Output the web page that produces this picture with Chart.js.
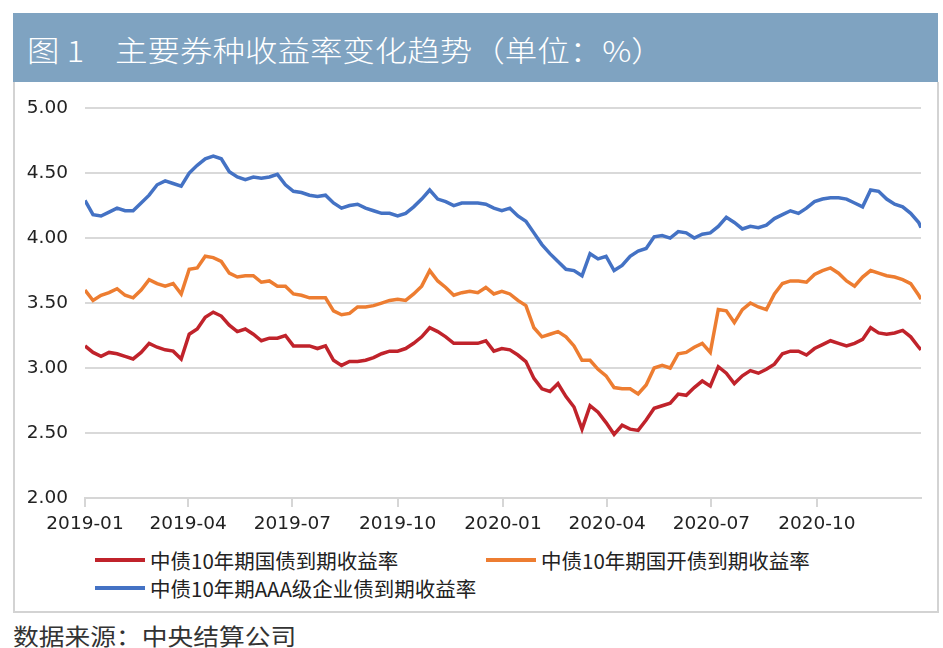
<!DOCTYPE html>
<html>
<head>
<meta charset="utf-8">
<script src="https://cdn.jsdelivr.net/npm/chart.js@4.4.0/dist/chart.umd.min.js"></script>
<style>
  body { margin: 0; background: #fff; width: 943px; height: 648px; position: relative; overflow: hidden;
         font-family: "Noto Sans CJK SC", sans-serif; }
  #head { position: absolute; left: 13px; top: 13px; width: 925px; height: 69px; background: #7fa3c1; }
  .t { position: absolute; color: #fff; font-size: 29px; line-height: 29px; top: 22px; white-space: nowrap;
       transform: scaleX(1.12); transform-origin: 0 50%; font-weight: 300; }
  #box { position: absolute; left: 13px; top: 82px; width: 922px; height: 529px; border: 2px solid #d3d3d3; border-top: none; }
  #wrap { position: absolute; left: 15px; top: 80px; }
  .leg { position: absolute; font-size: 20.5px; line-height: 22px; color: #222; white-space: nowrap; }
  .leg i { position: absolute; left: -55px; top: 9px; width: 50px; height: 4px; }
  #src { position: absolute; left: 13px; top: 622px; font-size: 23px; line-height: 26px; color: #333;
         transform: scaleX(1.12); transform-origin: 0 50%; white-space: nowrap; }
</style>
</head>
<body>
<div id="head">
  <span class="t" style="left:14px">图 1</span>
  <span class="t" style="left:102px">主要券种收益率变化趋势（单位：%）</span>
</div>
<div id="box"></div>
<div id="wrap"><canvas id="c" width="920" height="465"></canvas></div>
<div id="legend"></div>
<div id="src">数据来源：中央结算公司</div>
<script>
const dates = [
  '2019-01-01','2019-01-08','2019-01-15','2019-01-22','2019-01-29','2019-02-05','2019-02-12','2019-02-19','2019-02-26',
  '2019-03-05','2019-03-12','2019-03-19','2019-03-26','2019-04-02','2019-04-09','2019-04-16','2019-04-23','2019-04-30',
  '2019-05-07','2019-05-14','2019-05-21','2019-05-28','2019-06-04','2019-06-11','2019-06-18','2019-06-25',
  '2019-07-02','2019-07-09','2019-07-16','2019-07-23','2019-07-30','2019-08-06','2019-08-13','2019-08-20','2019-08-27',
  '2019-09-03','2019-09-10','2019-09-17','2019-09-24','2019-10-01','2019-10-08','2019-10-15','2019-10-22','2019-10-29',
  '2019-11-05','2019-11-12','2019-11-19','2019-11-26','2019-12-03','2019-12-10','2019-12-17','2019-12-24','2019-12-31',
  '2020-01-07','2020-01-14','2020-01-21','2020-01-28','2020-02-04','2020-02-11','2020-02-18','2020-02-25',
  '2020-03-03','2020-03-10','2020-03-17','2020-03-24','2020-03-31','2020-04-07','2020-04-14','2020-04-21','2020-04-28',
  '2020-05-05','2020-05-12','2020-05-19','2020-05-26','2020-06-02','2020-06-09','2020-06-16','2020-06-23','2020-06-30',
  '2020-07-07','2020-07-14','2020-07-21','2020-07-28','2020-08-04','2020-08-11','2020-08-18','2020-08-25',
  '2020-09-01','2020-09-08','2020-09-15','2020-09-22','2020-09-29','2020-10-06','2020-10-13','2020-10-20','2020-10-27',
  '2020-11-03','2020-11-10','2020-11-17','2020-11-24','2020-12-01','2020-12-08','2020-12-15','2020-12-22','2020-12-29',
  '2020-12-31'
];

// 中债10年期国债到期收益率
const govYield = [
  3.17, 3.12, 3.09, 3.12, 3.11, 3.09, 3.07, 3.12, 3.19, 3.16, 3.14, 3.13, 3.07,
  3.26, 3.30, 3.39, 3.43, 3.40, 3.33, 3.28, 3.30, 3.26, 3.21, 3.23, 3.23, 3.25, 3.17,
  3.17, 3.17, 3.15, 3.17, 3.06, 3.02, 3.05, 3.05, 3.06, 3.08, 3.11, 3.13, 3.13, 3.15, 3.19, 3.24, 3.31,
  3.28, 3.24, 3.19, 3.19, 3.19, 3.19, 3.21, 3.13, 3.15,
  3.14, 3.10, 3.05, 2.92, 2.84, 2.82, 2.88, 2.78, 2.70, 2.53, 2.71, 2.66, 2.58, 2.49, 2.56, 2.53, 2.52,
  2.60, 2.69, 2.71, 2.73, 2.80, 2.79, 2.85, 2.90, 2.86,
  3.01, 2.96, 2.88, 2.94, 2.98, 2.96, 2.99, 3.03, 3.11, 3.13, 3.13, 3.10, 3.15, 3.18, 3.21, 3.19, 3.17,
  3.19, 3.22, 3.31, 3.27, 3.26, 3.27, 3.29, 3.24, 3.16, 3.14
];

// 中债10年期国开债到期收益率
const cdbYield = [
  3.60, 3.52, 3.56, 3.58, 3.61, 3.56, 3.54, 3.60, 3.68, 3.65, 3.63, 3.65, 3.57,
  3.76, 3.77, 3.86, 3.85, 3.82, 3.73, 3.70, 3.71, 3.71, 3.66, 3.67, 3.63, 3.63, 3.57,
  3.56, 3.54, 3.54, 3.54, 3.44, 3.41, 3.42, 3.47, 3.47, 3.48, 3.50, 3.52, 3.53, 3.52, 3.57, 3.63, 3.75,
  3.67, 3.62, 3.56, 3.58, 3.59, 3.58, 3.62, 3.57, 3.59,
  3.57, 3.52, 3.48, 3.31, 3.24, 3.26, 3.28, 3.24, 3.17, 3.06, 3.06, 2.99, 2.94, 2.85, 2.84, 2.84, 2.80,
  2.87, 3.00, 3.02, 3.00, 3.11, 3.12, 3.16, 3.19, 3.12,
  3.45, 3.44, 3.35, 3.45, 3.50, 3.47, 3.45, 3.57, 3.65, 3.67, 3.67, 3.66, 3.72, 3.75, 3.77, 3.73, 3.67,
  3.63, 3.70, 3.75, 3.73, 3.71, 3.70, 3.68, 3.65, 3.56, 3.53
];

// 中债10年期AAA级企业债到期收益率
const aaaYield = [
  4.29, 4.18, 4.17, 4.20, 4.23, 4.21, 4.21, 4.27, 4.33, 4.41, 4.44, 4.42, 4.40,
  4.50, 4.56, 4.61, 4.63, 4.61, 4.51, 4.47, 4.45, 4.47, 4.46, 4.47, 4.49, 4.41, 4.36,
  4.35, 4.33, 4.32, 4.33, 4.27, 4.23, 4.25, 4.26, 4.23, 4.21, 4.19, 4.19, 4.17, 4.19, 4.24, 4.30, 4.37,
  4.30, 4.28, 4.25, 4.27, 4.27, 4.27, 4.26, 4.23, 4.21,
  4.23, 4.17, 4.13, 4.04, 3.95, 3.88, 3.82, 3.76, 3.75, 3.71, 3.88, 3.84, 3.86, 3.75, 3.79, 3.86, 3.90,
  3.92, 4.01, 4.02, 4.00, 4.05, 4.04, 4.00, 4.03, 4.04,
  4.09, 4.16, 4.12, 4.07, 4.09, 4.08, 4.10, 4.15, 4.18, 4.21, 4.19, 4.23, 4.28, 4.30, 4.31, 4.31, 4.30,
  4.27, 4.24, 4.37, 4.36, 4.30, 4.26, 4.24, 4.19, 4.12, 4.08
];

const seriesNames = ['中债10年期国债到期收益率', '中债10年期国开债到期收益率', '中债10年期AAA级企业债到期收益率'];
const seriesColors = ['#c0232b', '#ed7d31', '#4472c4'];
const tickLabels = ['2019-01', '2019-04', '2019-07', '2019-10', '2020-01', '2020-04', '2020-07', '2020-10'];
const yTicks = [2.0, 2.5, 3.0, 3.5, 4.0, 4.5, 5.0];

function day(s) {
  const p = s.split('-');
  return (Date.UTC(+p[0], +p[1] - 1, +(p[2] || 1)) - Date.UTC(2019, 0, 1)) / 86400000;
}
const xs = dates.map(day);
const tickDays = tickLabels.map(day);
const endDay = day('2020-12-31');

const toPts = arr => arr.map((v, i) => ({ x: xs[i], y: v }));

const datasets = [govYield, cdbYield, aaaYield].map((arr, k) => ({
  label: seriesNames[k],
  data: toPts(arr),
  borderColor: seriesColors[k],
  backgroundColor: seriesColors[k],
  borderWidth: 3.5,
  pointRadius: 0,
  tension: 0,
  fill: false
}));

new Chart(document.getElementById('c'), {
  type: 'line',
  data: { datasets: datasets },
  options: {
    responsive: false,
    animation: false,
    layout: { padding: { top: 25, right: 14, bottom: 0, left: 0 } },
    plugins: { legend: { display: false }, tooltip: { enabled: false } },
    scales: {
      x: {
        type: 'linear',
        min: 0,
        max: endDay,
        afterBuildTicks: s => { s.ticks = tickDays.map(v => ({ value: v })); },
        afterFit: s => { s.height = 47; },
        ticks: {
          autoSkip: false,
          maxRotation: 0,
          padding: 6,
          color: '#222',
          font: { family: 'DejaVu Sans', size: 18.5 },
          callback: v => tickLabels[tickDays.indexOf(v)]
        },
        grid: { drawOnChartArea: false, drawTicks: true, tickLength: 9, color: '#d6d6d6', lineWidth: 2 },
        border: { display: true, color: '#d6d6d6', width: 2 }
      },
      y: {
        min: 2,
        max: 5,
        afterBuildTicks: s => { s.ticks = yTicks.map(v => ({ value: v })); },
        afterFit: s => { s.width = 70; },
        ticks: {
          padding: 17,
          color: '#222',
          font: { family: 'DejaVu Sans', size: 18.5 },
          callback: v => v.toFixed(2)
        },
        grid: { color: '#d9d9d9', lineWidth: 2, drawTicks: false },
        border: { display: false }
      }
    }
  }
});

// legend built from the series names/colours
const legendPos = [[150, 549], [541, 549], [150, 577]];
const lg = document.getElementById('legend');
seriesNames.forEach((name, k) => {
  const d = document.createElement('div');
  d.className = 'leg';
  d.style.left = legendPos[k][0] + 'px';
  d.style.top = legendPos[k][1] + 'px';
  d.innerHTML = '<i style="background:' + seriesColors[k] + '"></i>' + name;
  lg.appendChild(d);
});
</script>
</body>
</html>
